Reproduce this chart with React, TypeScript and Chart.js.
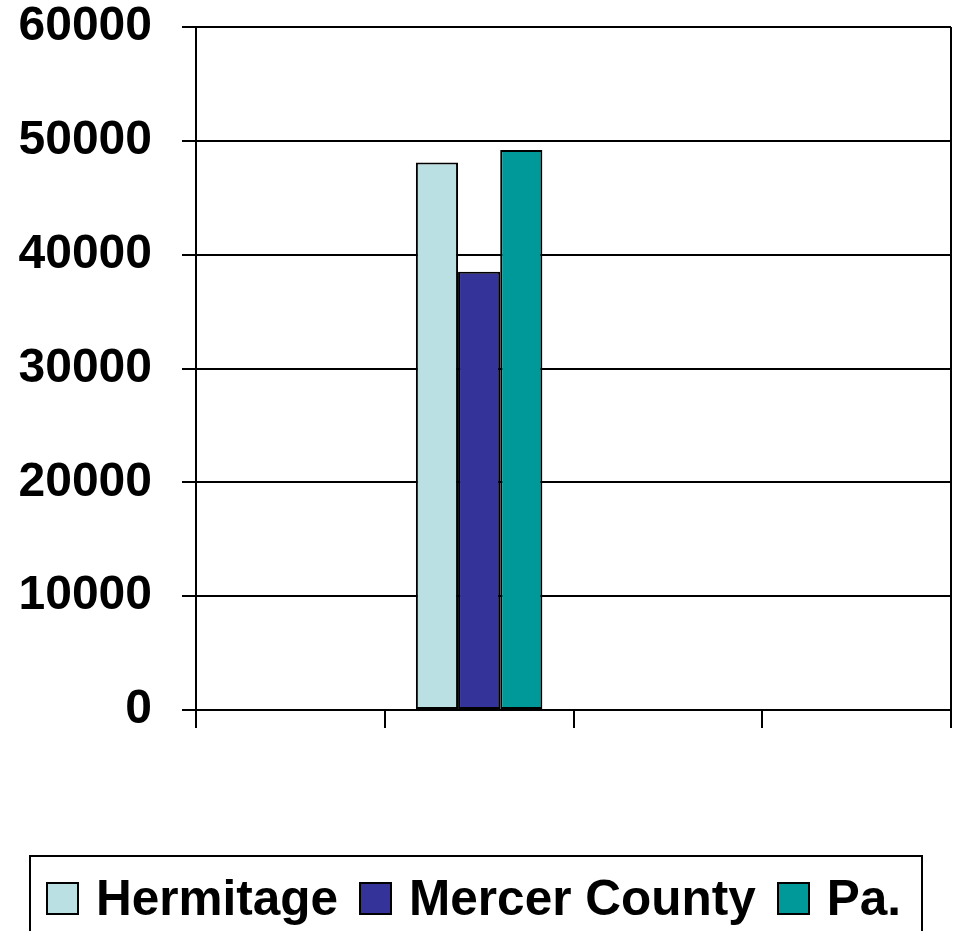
import React, { useEffect, useRef } from "react";
import { Chart, registerables } from "chart.js";

Chart.register(...registerables);

const categories = ["", "", "", ""];
const seriesNames = ["Hermitage", "Mercer County", "Pa."];
const hermitage = [null, 48100, null, null];
const mercer = [null, 38500, null, null];
const pa = [null, 49200, null, null];
const yTicks = [0, 10000, 20000, 30000, 40000, 50000, 60000];
const colors = ["#BBE0E3", "#333399", "#009999"];

const FONT = "'Liberation Sans', Arial, Helvetica, sans-serif";

export default function App() {
  const ref = useRef<HTMLCanvasElement | null>(null);

  useEffect(() => {
    document.body.style.margin = "0";
    const canvas = ref.current;
    if (!canvas) return;
    const borderPlugin = {
      id: "rightBorder",
      afterDraw(chart: any) {
        const { ctx, chartArea } = chart;
        ctx.save();
        ctx.strokeStyle = "#000";
        ctx.lineWidth = 2;
        ctx.beginPath();
        ctx.moveTo(chartArea.right, chartArea.top);
        ctx.lineTo(chartArea.right, chartArea.bottom);
        ctx.stroke();
        ctx.restore();
      },
    };
    const data = [hermitage, mercer, pa];
    const chart = new Chart(canvas, {
      type: "bar",
      data: {
        labels: categories,
        datasets: seriesNames.map((name, i) => ({
          label: name,
          data: data[i],
          backgroundColor: colors[i],
          borderColor: "#000",
          borderWidth: 2,
          borderSkipped: false,
          barPercentage: 1,
          categoryPercentage: 0.67,
        })),
      },
      options: {
        animation: false,
        responsive: false,
        maintainAspectRatio: false,
        layout: { padding: { top: 27, right: 7, left: 0, bottom: 0 } },
        plugins: { legend: { display: false }, tooltip: { enabled: false } },
        scales: {
          x: {
            grid: {
              offset: true,
              drawOnChartArea: false,
              drawTicks: true,
              tickLength: 18,
              color: "#000",
              lineWidth: 2,
            },
            border: { color: "#000", width: 2 },
            ticks: { display: false },
            afterFit: (scale: any) => {
              scale.height = 931 - 710;
              scale.paddingLeft = 0;
              scale.paddingRight = 0;
            },
          },
          y: {
            min: 0,
            max: 60000,
            afterBuildTicks: (scale: any) => {
              scale.ticks = yTicks.map((v) => ({ value: v }));
            },
            grid: { color: "#000", lineWidth: 2, tickLength: 14 },
            border: { color: "#000", width: 2 },
            ticks: {
              padding: 30,
              color: "#000",
              callback: (v: any) => String(v),
              font: { family: FONT, size: 48, weight: "bold", lineHeight: 1 },
            },
            afterFit: (scale: any) => {
              scale.width = 196;
              scale.paddingTop = 0;
              scale.paddingBottom = 0;
            },
          },
        },
      },
      plugins: [borderPlugin],
    });
    return () => chart.destroy();
  }, []);

  const box = (c: string) => ({
    display: "inline-block",
    width: 33,
    height: 33,
    background: c,
    border: "2px solid #000",
    boxSizing: "border-box" as const,
    marginRight: 17,
  });

  return (
    <div style={{ position: "relative", width: 958, height: 931, overflow: "hidden", background: "#fff" }}>
      <canvas ref={ref} width={958} height={931} style={{ position: "absolute", left: 0, top: 0 }} />
      <div
        style={{
          position: "absolute",
          left: 29,
          top: 855,
          width: 894,
          height: 120,
          border: "2px solid #000",
          boxSizing: "border-box",
          fontFamily: FONT,
          fontWeight: "bold",
          fontSize: 49.5,
          color: "#000",
        }}
      >
        <div style={{ position: "absolute", left: 15, top: 13, display: "flex", alignItems: "center", whiteSpace: "nowrap", lineHeight: "56px" }}>
          {seriesNames.map((n, i) => (
            <span key={n} style={{ display: "inline-flex", alignItems: "center", marginRight: 21 }}>
              <span style={box(colors[i])} />
              <span>{n}</span>
            </span>
          ))}
        </div>
      </div>
    </div>
  );
}
